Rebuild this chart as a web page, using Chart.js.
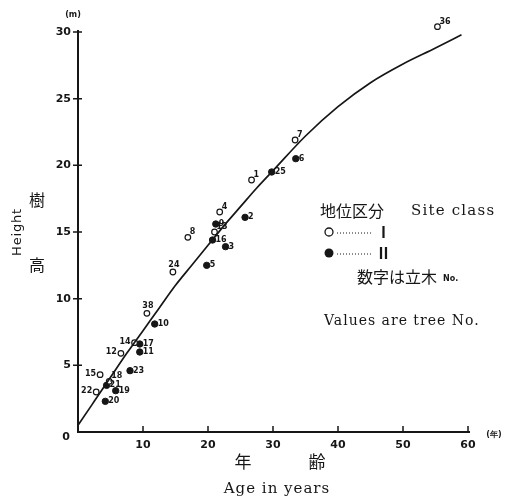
<!DOCTYPE html>
<html>
<head>
<meta charset="utf-8">
<script src="https://cdn.jsdelivr.net/npm/chart.js@4/dist/chart.umd.min.js"></script>
<style>
  html, body { margin: 0; padding: 0; background: #fff; }
  #wrap { width: 510px; height: 501px; position: relative; }
</style>
</head>
<body>
<div id="wrap"><canvas id="c" width="510" height="501"></canvas></div>
<script>
// Height growth curve (age in years, height in m)
const curveAge    = [0, 2.5, 5, 7.5, 10, 12.5, 15, 17.5, 20, 22.5, 25, 27.5, 30, 35, 40, 45, 50, 55, 59];
const curveHeight = [0.5, 2.3, 4.1, 5.9, 7.6, 9.3, 11.0, 12.5, 14.0, 15.5, 16.9, 18.3, 19.6, 22.2, 24.4, 26.2, 27.6, 28.8, 29.8];

// Site class I trees (open circles)
const siteITree   = ['36', '7', '1', '4', '8', '24', '13', '38', '14', '12', '15', '18', '22'];
const siteIAge    = [55.3, 33.4, 26.7, 21.8, 16.9, 14.6, 21.0, 10.6, 8.7, 6.6, 3.4, 4.8, 2.8];
const siteIHeight = [30.4, 21.9, 18.9, 16.5, 14.6, 12.0, 15.0, 8.9, 6.7, 5.9, 4.3, 3.8, 3.0];

// Site class II trees (filled circles)
const siteIITree   = ['6', '25', '2', '3', '5', '9', '16', '10', '17', '11', '23', '21', '19', '20'];
const siteIIAge    = [33.5, 29.8, 25.7, 22.7, 19.8, 21.2, 20.7, 11.8, 9.5, 9.5, 8.0, 4.4, 5.8, 4.2];
const siteIIHeight = [20.5, 19.5, 16.1, 13.9, 12.5, 15.6, 14.4, 8.1, 6.6, 6.0, 4.6, 3.5, 3.1, 2.3];

// Axis ticks
const xTicks = [10, 20, 30, 40, 50, 60];
const yTicks = [0, 5, 10, 15, 20, 25, 30];

const toPoints = (xs, ys) => xs.map((x, i) => ({ x: x, y: ys[i] }));

const INK = '#161616';
const NUM_FONT = 'bold 11px "DejaVu Sans"';

// tree numbers written to the left of / above their marker
const leftLabels = new Set(['14', '12', '15', '22']);
const topLabels = new Set(['24', '38']);

const treeLabels = {
  id: 'treeLabels',
  afterDatasetsDraw(chart) {
    const ctx = chart.ctx;
    ctx.save();
    ctx.fillStyle = INK;
    ctx.font = 'bold 8px "DejaVu Sans"';
    [[1, siteITree, true], [2, siteIITree, false]].forEach(([idx, names, open]) => {
      const meta = chart.getDatasetMeta(idx);
      meta.data.forEach((el, i) => {
        const t = names[i];
        if (leftLabels.has(t)) {
          ctx.textAlign = 'right'; ctx.textBaseline = 'middle';
          ctx.fillText(t, el.x - 4, el.y - 1);
        } else if (topLabels.has(t)) {
          ctx.textAlign = 'center'; ctx.textBaseline = 'bottom';
          ctx.fillText(t, el.x + 1, el.y - 3);
        } else if (open) {
          ctx.textAlign = 'left'; ctx.textBaseline = 'bottom';
          ctx.fillText(t, el.x + 2, el.y - 1);
        } else {
          ctx.textAlign = 'left'; ctx.textBaseline = 'middle';
          ctx.fillText(t, el.x + 3, el.y);
        }
      });
    });
    ctx.restore();
  }
};

const frame = {
  id: 'frame',
  afterDraw(chart) {
    const ctx = chart.ctx;
    const xs = chart.scales.x, ys = chart.scales.y;
    const x0 = xs.getPixelForValue(0), y0 = ys.getPixelForValue(0);
    ctx.save();
    ctx.strokeStyle = INK;
    ctx.fillStyle = INK;

    // axis lines
    ctx.lineWidth = 2;
    ctx.beginPath();
    ctx.moveTo(x0, ys.getPixelForValue(30) - 2);
    ctx.lineTo(x0, y0);
    ctx.lineTo(xs.getPixelForValue(60) + 2, y0);
    ctx.stroke();

    // tick marks
    ctx.lineWidth = 1.5;
    ctx.beginPath();
    yTicks.forEach(v => {
      if (v === 0) return;
      const y = ys.getPixelForValue(v);
      ctx.moveTo(x0 - 5, y); ctx.lineTo(x0 + 4, y);
    });
    xTicks.forEach(v => {
      const x = xs.getPixelForValue(v);
      ctx.moveTo(x, y0); ctx.lineTo(x, y0 - 6);
    });
    ctx.stroke();

    // origin label and units
    ctx.font = NUM_FONT;
    ctx.textAlign = 'right'; ctx.textBaseline = 'middle';
    ctx.fillText('0', x0 - 8, y0 + 5);
    ctx.font = 'bold 8px "DejaVu Sans"';
    ctx.textAlign = 'center';
    ctx.fillText('(m)', x0 - 5, 15);
    ctx.fillText('(年)', 494, y0 + 3);

    // y-axis title
    ctx.save();
    ctx.translate(18, 232);
    ctx.rotate(-Math.PI / 2);
    ctx.font = '13px "DejaVu Sans"';
    ctx.letterSpacing = '0.8px';
    ctx.textAlign = 'center'; ctx.textBaseline = 'middle';
    ctx.fillText('Height', 0, 0);
    ctx.restore();
    ctx.font = '16px "Noto Sans CJK JP"';
    ctx.textAlign = 'center'; ctx.textBaseline = 'middle';
    ctx.fillText('樹', 37, 200);
    ctx.fillText('高', 37, 265);

    // x-axis title
    ctx.font = '17px "Noto Sans CJK JP"';
    ctx.fillText('年', 243, 462);
    ctx.fillText('齢', 317, 462);
    ctx.font = '15px "DejaVu Serif"';
    ctx.letterSpacing = '1px';
    ctx.fillText('Age in years', 277, 489);

    // legend
    ctx.letterSpacing = '0px';
    ctx.textAlign = 'left';
    ctx.font = '16px "Noto Sans CJK JP"';
    ctx.fillText('地位区分', 320, 211);
    ctx.font = '15px "DejaVu Serif"';
    ctx.letterSpacing = '1.2px';
    ctx.fillText('Site class', 411, 211);
    ctx.letterSpacing = '0px';

    ctx.lineWidth = 1.3;
    ctx.beginPath(); ctx.arc(329, 232, 4, 0, Math.PI * 2); ctx.stroke();
    ctx.beginPath(); ctx.arc(329, 253, 4.5, 0, Math.PI * 2); ctx.fill();
    ctx.lineWidth = 1;
    ctx.setLineDash([1, 2]);
    ctx.beginPath();
    ctx.moveTo(337, 233); ctx.lineTo(373, 233);
    ctx.moveTo(337, 254); ctx.lineTo(373, 254);
    ctx.stroke();
    ctx.setLineDash([]);
    ctx.font = 'bold 15px "Noto Sans CJK JP"';
    ctx.fillText('Ⅰ', 376, 232);
    ctx.fillText('Ⅱ', 376, 253);

    ctx.font = '16px "Noto Sans CJK JP"';
    ctx.fillText('数字は立木', 357, 277);
    ctx.font = 'bold 8px "DejaVu Sans"';
    ctx.fillText('No.', 443, 279);

    ctx.font = '14px "DejaVu Serif"';
    ctx.letterSpacing = '1px';
    ctx.fillText('Values are tree No.', 324, 321);
    ctx.restore();
  }
};

new Chart(document.getElementById('c'), {
  type: 'scatter',
  data: {
    datasets: [
      {
        label: 'curve',
        data: toPoints(curveAge, curveHeight),
        showLine: true,
        borderColor: INK,
        borderWidth: 1.7,
        pointRadius: 0,
        cubicInterpolationMode: 'monotone',
        fill: false
      },
      {
        label: 'Ⅰ',
        data: toPoints(siteIAge, siteIHeight),
        pointStyle: 'circle',
        pointRadius: 2.8,
        pointBackgroundColor: '#fff',
        pointBorderColor: INK,
        pointBorderWidth: 1.2,
        clip: false
      },
      {
        label: 'Ⅱ',
        data: toPoints(siteIIAge, siteIIHeight),
        pointStyle: 'circle',
        pointRadius: 3.2,
        pointBackgroundColor: INK,
        pointBorderColor: INK,
        pointBorderWidth: 1,
        clip: false
      }
    ]
  },
  options: {
    responsive: false,
    animation: false,
    devicePixelRatio: 1,
    // the value range reaches a little past the top tick so tall trees stay inside the plot
    layout: { padding: { left: 0, right: 42, top: 18.67, bottom: 0 } },
    plugins: { legend: { display: false }, tooltip: { enabled: false } },
    scales: {
      x: {
        type: 'linear', min: 0, max: 60,
        afterFit(s) { s.height = 69; },
        afterBuildTicks(s) { s.ticks = xTicks.map(v => ({ value: v })); },
        grid: { display: false, drawTicks: false },
        border: { display: false },
        ticks: { padding: 7, color: INK, maxRotation: 0, font: { family: 'DejaVu Sans', size: 11, weight: 'bold' } }
      },
      y: {
        type: 'linear', min: 0, max: 31,
        afterFit(s) { s.width = 78; },
        afterBuildTicks(s) { s.ticks = yTicks.map(v => ({ value: v })); },
        grid: { display: false, drawTicks: false },
        border: { display: false },
        ticks: {
          padding: 7, color: INK,
          callback: v => (v === 0 ? '' : String(v)),
          font: { family: 'DejaVu Sans', size: 11, weight: 'bold' }
        }
      }
    }
  },
  plugins: [treeLabels, frame]
});
</script>
</body>
</html>
